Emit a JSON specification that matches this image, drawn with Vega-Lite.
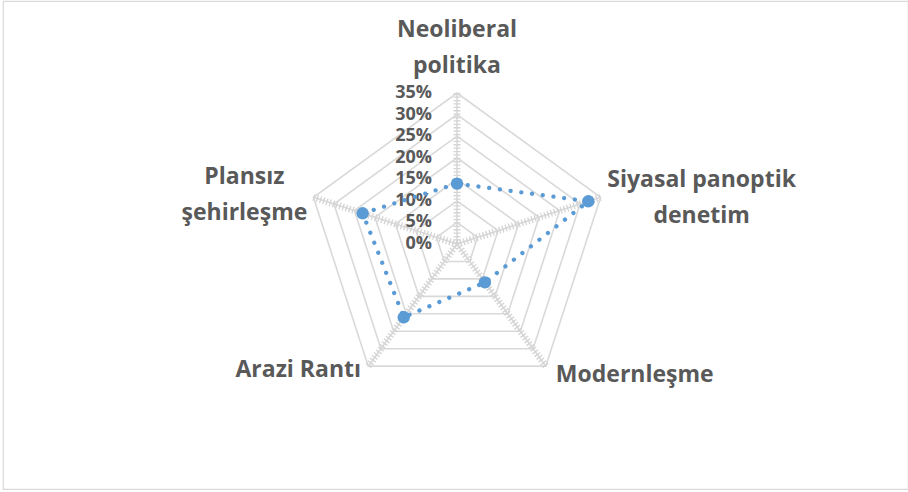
{
  "$schema": "https://vega.github.io/schema/vega-lite/v6.json",
  "width": 908,
  "height": 492,
  "autosize": {"type": "fit", "contains": "padding"},
  "padding": {"left": 3, "top": 1, "right": 0, "bottom": 3},
  "background": "white",
  "config": {"view": {"stroke": "#d9d9d9", "strokeWidth": 1.2}},
  "datasets": {
    "cats": [
      {"cat": "Neoliberal\npolitika", "idx": 0, "value": 14},
      {"cat": "Siyasal panoptik\ndenetim", "idx": 1, "value": 32},
      {"cat": "Modernleşme", "idx": 2, "value": 11},
      {"cat": "Arazi Rantı", "idx": 3, "value": 21},
      {"cat": "Plansız\nşehirleşme", "idx": 4, "value": 23}
    ],
    "grid": [
      {"level": 5, "idx": 0}, {"level": 5, "idx": 1}, {"level": 5, "idx": 2}, {"level": 5, "idx": 3}, {"level": 5, "idx": 4},
      {"level": 10, "idx": 0}, {"level": 10, "idx": 1}, {"level": 10, "idx": 2}, {"level": 10, "idx": 3}, {"level": 10, "idx": 4},
      {"level": 15, "idx": 0}, {"level": 15, "idx": 1}, {"level": 15, "idx": 2}, {"level": 15, "idx": 3}, {"level": 15, "idx": 4},
      {"level": 20, "idx": 0}, {"level": 20, "idx": 1}, {"level": 20, "idx": 2}, {"level": 20, "idx": 3}, {"level": 20, "idx": 4},
      {"level": 25, "idx": 0}, {"level": 25, "idx": 1}, {"level": 25, "idx": 2}, {"level": 25, "idx": 3}, {"level": 25, "idx": 4},
      {"level": 30, "idx": 0}, {"level": 30, "idx": 1}, {"level": 30, "idx": 2}, {"level": 30, "idx": 3}, {"level": 30, "idx": 4},
      {"level": 35, "idx": 0}, {"level": 35, "idx": 1}, {"level": 35, "idx": 2}, {"level": 35, "idx": 3}, {"level": 35, "idx": 4}
    ],
    "ticks": [
      {"level": 0}, {"level": 5}, {"level": 10}, {"level": 15}, {"level": 20}, {"level": 25}, {"level": 30}, {"level": 35}
    ]
  },
  "encoding": {
    "x": {"type": "quantitative", "scale": {"domain": [-105.24, 104.54], "nice": false, "zero": false}, "axis": null},
    "y": {"type": "quantitative", "scale": {"domain": [-56.79, 56.33], "nice": false, "zero": false}, "axis": null}
  },
  "layer": [
    {
      "data": {"name": "grid"},
      "transform": [
        {"calculate": "PI/2 - datum.idx*2*PI/5", "as": "a"},
        {"calculate": "datum.level*cos(datum.a)", "as": "gx"},
        {"calculate": "datum.level*sin(datum.a)", "as": "gy"}
      ],
      "mark": {"type": "line", "interpolate": "linear-closed", "color": "#d9d9d9", "strokeWidth": 1.6},
      "encoding": {
        "x": {"field": "gx", "type": "quantitative"},
        "y": {"field": "gy", "type": "quantitative"},
        "detail": {"field": "level", "type": "nominal"},
        "order": {"field": "idx", "type": "quantitative"}
      }
    },
    {
      "data": {"name": "cats"},
      "transform": [
        {"calculate": "PI/2 - datum.idx*2*PI/5", "as": "a"},
        {"calculate": "0", "as": "ox"},
        {"calculate": "35*cos(datum.a)", "as": "ex"},
        {"calculate": "35*sin(datum.a)", "as": "ey"}
      ],
      "layer": [
        {
          "mark": {"type": "rule", "color": "#d9d9d9", "strokeWidth": 1.6},
          "encoding": {
            "x": {"field": "ox", "type": "quantitative"},
            "y": {"field": "ox", "type": "quantitative"},
            "x2": {"field": "ex"},
            "y2": {"field": "ey"}
          }
        },
        {
          "mark": {"type": "rule", "color": "#d4d4d4", "strokeWidth": 7, "strokeDash": [1.3, 2.1]},
          "encoding": {
            "x": {"field": "ox", "type": "quantitative"},
            "y": {"field": "ox", "type": "quantitative"},
            "x2": {"field": "ex"},
            "y2": {"field": "ey"}
          }
        }
      ]
    },
    {
      "data": {"name": "ticks"},
      "transform": [
        {"calculate": "datum.level + '%'", "as": "lbl"},
        {"calculate": "0", "as": "ox"}
      ],
      "mark": {"type": "text", "align": "right", "baseline": "middle", "dx": -25, "font": "Open Sans", "fontWeight": "bold", "fontSize": 18, "color": "#595959"},
      "encoding": {
        "x": {"field": "ox", "type": "quantitative"},
        "y": {"field": "level", "type": "quantitative"},
        "text": {"field": "lbl"}
      }
    },
    {
      "data": {"name": "cats"},
      "transform": [
        {"calculate": "PI/2 - datum.idx*2*PI/5", "as": "a"},
        {"calculate": "datum.value*cos(datum.a)", "as": "px"},
        {"calculate": "datum.value*sin(datum.a)", "as": "py"}
      ],
      "layer": [
        {
          "mark": {"type": "line", "interpolate": "linear-closed", "color": "#5b9bd5", "strokeWidth": 4.3, "strokeCap": "round", "strokeDash": [0.01, 10.8]},
          "encoding": {
            "x": {"field": "px", "type": "quantitative"},
            "y": {"field": "py", "type": "quantitative"},
            "order": {"field": "idx", "type": "quantitative"}
          }
        },
        {
          "mark": {"type": "circle", "color": "#5b9bd5", "opacity": 1, "size": 155},
          "encoding": {
            "x": {"field": "px", "type": "quantitative"},
            "y": {"field": "py", "type": "quantitative"}
          }
        }
      ]
    },
    {
      "data": {"name": "cats"},
      "transform": [
        {"calculate": "PI/2 - datum.idx*2*PI/5", "as": "a"},
        {"calculate": "35*cos(datum.a)", "as": "vx"},
        {"calculate": "35*sin(datum.a)", "as": "vy"}
      ],
      "encoding": {
        "x": {"field": "vx", "type": "quantitative"},
        "y": {"field": "vy", "type": "quantitative"},
        "text": {"field": "cat"}
      },
      "layer": [
        {"transform": [{"filter": "datum.idx == 0"}], "mark": {"type": "text", "align": "center", "baseline": "middle", "lineBreak": "\n", "lineHeight": 36, "dx": 0, "dy": -63, "font": "Open Sans", "fontWeight": "bold", "fontSize": 23, "color": "#595959"}},
        {"transform": [{"filter": "datum.idx == 1"}], "mark": {"type": "text", "align": "center", "baseline": "middle", "lineBreak": "\n", "lineHeight": 36, "dx": 101, "dy": -17, "font": "Open Sans", "fontWeight": "bold", "fontSize": 23, "color": "#595959"}},
        {"transform": [{"filter": "datum.idx == 2"}], "mark": {"type": "text", "align": "center", "baseline": "middle", "lineBreak": "\n", "lineHeight": 36, "dx": 89, "dy": 9, "font": "Open Sans", "fontWeight": "bold", "fontSize": 23, "color": "#595959"}},
        {"transform": [{"filter": "datum.idx == 3"}], "mark": {"type": "text", "align": "center", "baseline": "middle", "lineBreak": "\n", "lineHeight": 36, "dx": -70, "dy": 4, "font": "Open Sans", "fontWeight": "bold", "fontSize": 23, "color": "#595959"}},
        {"transform": [{"filter": "datum.idx == 4"}], "mark": {"type": "text", "align": "center", "baseline": "middle", "lineBreak": "\n", "lineHeight": 36, "dx": -69, "dy": -20, "font": "Open Sans", "fontWeight": "bold", "fontSize": 23, "color": "#595959"}}
      ]
    }
  ]
}
